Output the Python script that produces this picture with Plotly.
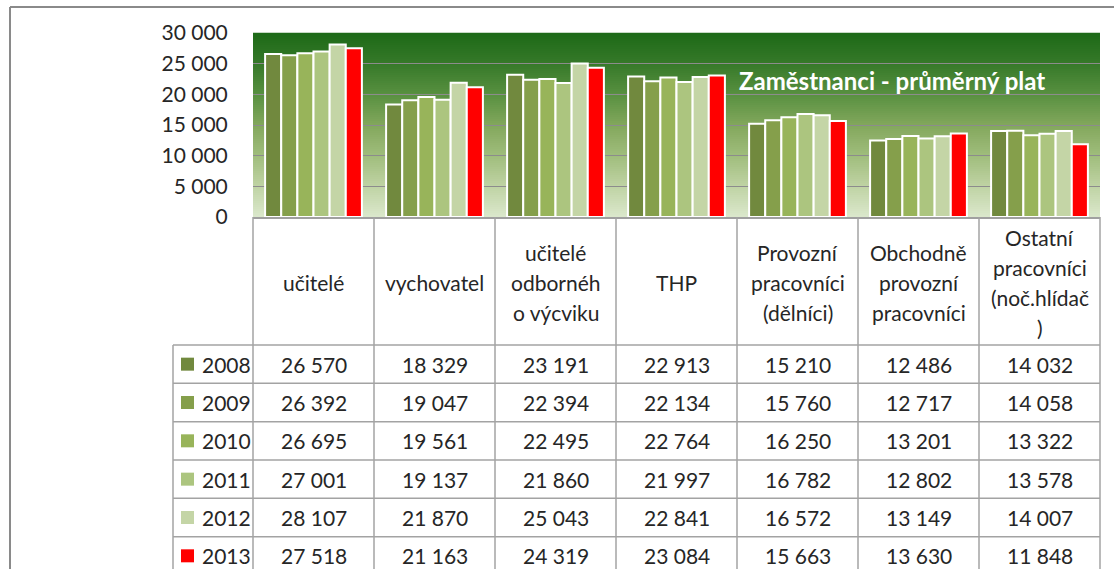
import plotly.graph_objects as go

# ---------------- data ----------------
categories = [
    "učitelé",
    "vychovatel",
    "učitelé<br>odbornéh<br>o výcviku",
    "THP",
    "Provozní<br>pracovníci<br>(dělníci)",
    "Obchodně<br>provozní<br>pracovníci",
    "Ostatní<br>pracovníci<br>(noč.hlídač<br>)",
]
years = ["2008", "2009", "2010", "2011", "2012", "2013"]
v2008 = [26570, 18329, 23191, 22913, 15210, 12486, 14032]
v2009 = [26392, 19047, 22394, 22134, 15760, 12717, 14058]
v2010 = [26695, 19561, 22495, 22764, 16250, 13201, 13322]
v2011 = [27001, 19137, 21860, 21997, 16782, 12802, 13578]
v2012 = [28107, 21870, 25043, 22841, 16572, 13149, 14007]
v2013 = [27518, 21163, 24319, 23084, 15663, 13630, 11848]
series = [v2008, v2009, v2010, v2011, v2012, v2013]
y_ticks = [0, 5000, 10000, 15000, 20000, 25000, 30000]
y_ticktext = ["0", "5 000", "10 000", "15 000", "20 000", "25 000", "30 000"]
title_text = "Zaměstnanci - průměrný plat"

# ---------------- styles ----------------
colors = ["#71893e", "#859f4b", "#98b45a", "#acc57f", "#c4d5a6", "#ff0000"]
FONT = "Lato, 'Open Sans', sans-serif"
TXT = "#262626"
GRID_TBL = "#a3a3a3"

W, H = 1114, 569
L, R, T, B = 253, 1100, 33, 217
PW, PH = R - L, B - T


def px(x):
    return (x - L) / PW


def py(y):
    return (B - y) / PH


def fmt(v):
    s = f"{v:,}"
    return s.replace(",", " ")


fig = go.Figure()
for yr, vals, c in zip(years, series, colors):
    fig.add_trace(go.Bar(
        x=categories, y=vals, name=yr,
        marker=dict(color=c, line=dict(color="white", width=2)),
        showlegend=False, hoverinfo="skip",
    ))

shapes = []
# gradient background (bottom -> top)
stops = [(0.0, (219, 232, 204)), (1/6, (191, 211, 164)), (2/6, (160, 189, 124)),
         (3/6, (130, 167, 92)), (4/6, (88, 144, 64)), (5/6, (54, 121, 41)), (1.0, (29, 106, 23))]


def grad(f):
    for (f0, c0), (f1, c1) in zip(stops[:-1], stops[1:]):
        if f <= f1:
            t = (f - f0) / (f1 - f0) if f1 > f0 else 0
            return "rgb(%d,%d,%d)" % tuple(round(a + (b - a) * t) for a, b in zip(c0, c1))
    return "rgb(%d,%d,%d)" % stops[-1][1]


N = 92
for i in range(N):
    f0, f1 = i / N, (i + 1) / N
    shapes.append(dict(type="rect", xref="x domain", yref="y domain", x0=0, x1=1,
                       y0=f0, y1=f1 + 0.002, fillcolor=grad((f0 + f1) / 2),
                       line=dict(width=0), layer="below"))

# outer frame
shapes.append(dict(type="line", xref="paper", yref="paper", x0=px(10), x1=px(1116), y0=py(7), y1=py(7),
                   line=dict(color="#8a8a8a", width=2)))
shapes.append(dict(type="line", xref="paper", yref="paper", x0=px(10), x1=px(10), y0=py(7), y1=py(575),
                   line=dict(color="#8a8a8a", width=2)))

# table
ncat = len(categories)
colw = PW / ncat
col_edges = [L + i * colw for i in range(ncat + 1)]
head_bot = 345
row_h = 38.33
leg_left = 173
for xe in col_edges:
    shapes.append(dict(type="line", xref="paper", yref="paper", x0=px(xe), x1=px(xe), y0=py(B), y1=py(580),
                       line=dict(color=GRID_TBL, width=1.5)))
shapes.append(dict(type="line", xref="paper", yref="paper", x0=px(leg_left), x1=px(leg_left),
                   y0=py(head_bot), y1=py(580), line=dict(color=GRID_TBL, width=1.5)))
for r in range(len(years)):
    yy = head_bot + r * row_h
    shapes.append(dict(type="line", xref="paper", yref="paper", x0=px(leg_left), x1=px(R), y0=py(yy), y1=py(yy),
                       line=dict(color=GRID_TBL, width=1.5)))

annotations = []
# header labels
line_sp = 30
hc = (B + head_bot) / 2 + 1
for i, cat in enumerate(categories):
    lines = cat.split("<br>")
    cx = L + (i + 0.5) * colw
    n = len(lines)
    for k, ln in enumerate(lines):
        yc = hc + (k - (n - 1) / 2) * line_sp
        annotations.append(dict(text=ln, x=px(cx), y=py(yc), xref="paper", yref="paper",
                                showarrow=False, xanchor="center", yanchor="middle",
                                font=dict(family=FONT, size=21, color=TXT)))

# data rows
for r, (yr, vals, c) in enumerate(zip(years, series, colors)):
    yc = head_bot + (r + 0.5) * row_h
    shapes.append(dict(type="rect", xref="paper", yref="paper", x0=px(181), x1=px(194),
                       y0=py(yc - 6.5), y1=py(yc + 6.5), fillcolor=c, line=dict(width=0)))
    annotations.append(dict(text=yr, x=px(200), y=py(yc), xref="paper", yref="paper",
                            showarrow=False, xanchor="left", yanchor="middle",
                            font=dict(family=FONT, size=21, color=TXT)))
    for i, v in enumerate(vals):
        cx = L + (i + 0.5) * colw
        annotations.append(dict(text=fmt(v), x=px(cx), y=py(yc), xref="paper", yref="paper",
                                showarrow=False, xanchor="center", yanchor="middle",
                                font=dict(family=FONT, size=21, color=TXT)))

# chart title
annotations.append(dict(text="<b>" + title_text + "</b>", x=px(737), y=py(80), xref="paper", yref="paper",
                        showarrow=False, xanchor="left", yanchor="middle",
                        font=dict(family=FONT, size=24, color="white")))

fig.update_layout(
    width=W, height=H,
    margin=dict(l=L, r=W - R, t=T, b=H - B, autoexpand=False),
    paper_bgcolor="white", plot_bgcolor="rgba(0,0,0,0)",
    barmode="group", bargap=0.2, bargroupgap=0,
    shapes=shapes, annotations=annotations,
    showlegend=False,
)
fig.update_xaxes(showticklabels=False, showgrid=False, showline=True, linecolor="#a0a0a0", linewidth=1.5,
                 ticks="", zeroline=False, fixedrange=True)
fig.update_yaxes(range=[0, 30000], tickvals=y_ticks, ticktext=y_ticktext, showgrid=True,
                 gridcolor="#8c8c8c", gridwidth=1, zeroline=False, showline=False,
                 ticks="outside", ticklen=20, tickcolor="rgba(0,0,0,0)",
                 tickfont=dict(family=FONT, size=21, color=TXT), fixedrange=True)

fig.write_html("out.html", config={"displayModeBar": False},
               post_script="document.body.style.margin='0px';document.body.style.overflow='hidden';")
